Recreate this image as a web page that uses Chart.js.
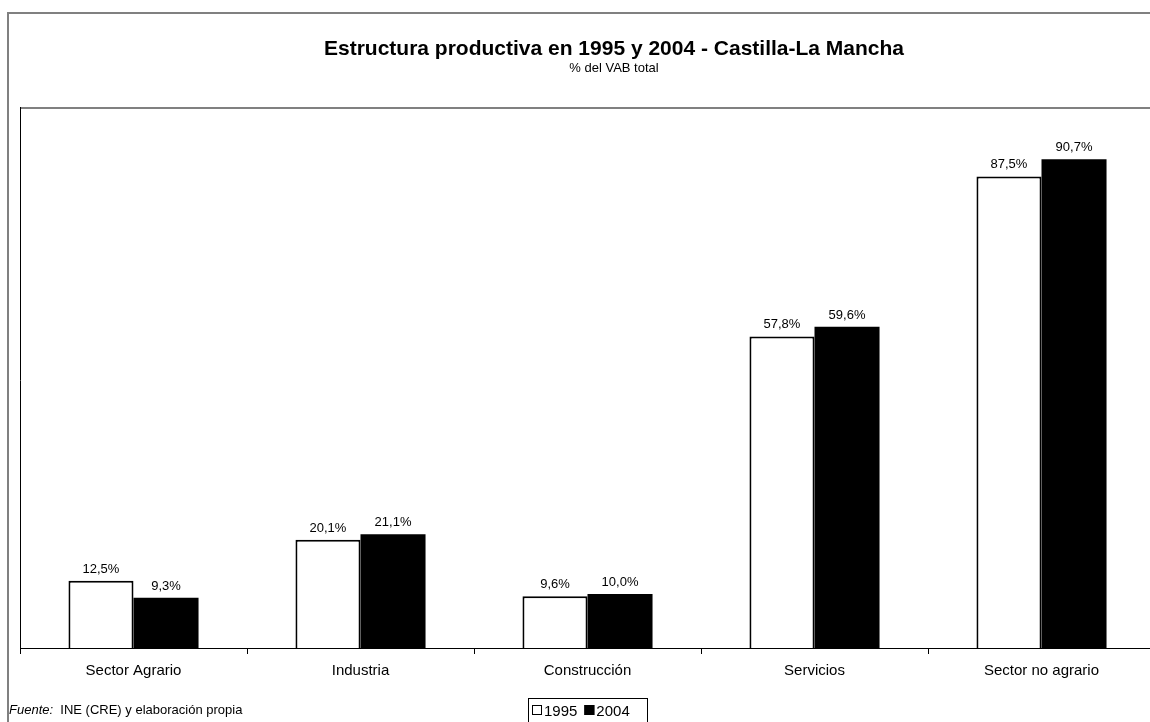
<!DOCTYPE html>
<html><head><meta charset="utf-8">
<script src="https://cdn.jsdelivr.net/npm/chart.js@4"></script>
<style>
html,body{margin:0;padding:0;background:#fff;overflow:hidden;width:1150px;height:722px;}
#wrap{position:relative;width:1150px;height:722px;overflow:hidden;}
canvas{position:absolute;left:0;top:0;}
</style></head><body>
<div id="wrap"><canvas id="c" width="1175" height="722"></canvas></div>
<script>
const categories = ["Sector Agrario", "Industria", "Construcción", "Servicios", "Sector no agrario"];
const seriesNames = ["1995", "2004"];
const values1995 = [12.5, 20.1, 9.6, 57.8, 87.5];
const values2004 = [9.3, 21.1, 10.0, 59.6, 90.7];
const titleText = "Estructura productiva en 1995 y 2004 - Castilla-La Mancha";
const subtitleText = "% del VAB total";
const sourceLabel = "Fuente:";
const sourceText = "INE (CRE) y elaboración propia";

const FONT = "'Liberation Sans', Arial, sans-serif";
const fmt = v => v.toFixed(1).replace('.', ',') + '%';

const decor = {
  id: 'decor',
  beforeDraw(chart) {
    const ctx = chart.ctx;
    ctx.save();
    ctx.fillStyle = '#fff';
    ctx.fillRect(0, 0, chart.width, chart.height);
    // outer frame
    ctx.strokeStyle = '#808080';
    ctx.lineWidth = 2;
    ctx.strokeRect(8, 13, 1300, 900);
    // title
    ctx.fillStyle = '#000';
    ctx.textAlign = 'center';
    ctx.textBaseline = 'alphabetic';
    ctx.font = 'bold 21px ' + FONT;
    ctx.fillText(titleText, 614, 55);
    ctx.font = '13px ' + FONT;
    ctx.fillText(subtitleText, 614, 72);
    ctx.restore();
  },
  afterDraw(chart) {
    const ctx = chart.ctx;
    const a = chart.chartArea;
    ctx.save();
    // plot frame
    ctx.strokeStyle = '#808080';
    ctx.lineWidth = 2;
    ctx.beginPath();
    ctx.moveTo(a.left, a.top - 1);
    ctx.lineTo(1300, a.top - 1);
    ctx.stroke();
    ctx.strokeStyle = '#000';
    ctx.lineWidth = 1;
    ctx.beginPath();
    ctx.moveTo(a.left + 0.5, a.top - 2);
    ctx.lineTo(a.left + 0.5, a.bottom + 6);
    ctx.stroke();
    // footer
    ctx.fillStyle = '#000';
    ctx.textAlign = 'left';
    ctx.textBaseline = 'alphabetic';
    ctx.font = 'italic 13px ' + FONT;
    ctx.fillText(sourceLabel, 9, 714);
    const w = ctx.measureText(sourceLabel + '  ').width;
    ctx.font = '13px ' + FONT;
    ctx.fillText(sourceText, 9 + w, 714);
    // legend
    ctx.strokeStyle = '#000';
    ctx.lineWidth = 1;
    ctx.strokeRect(528.5, 698.5, 119, 26);
    ctx.font = '15px ' + FONT;
    let x = 532;
    chart.data.datasets.forEach(ds => {
      ctx.fillStyle = ds.backgroundColor;
      ctx.fillRect(x, 705, 10, 10);
      ctx.strokeStyle = '#000';
      ctx.strokeRect(x + 0.5, 705.5, 9, 9);
      ctx.fillStyle = '#000';
      ctx.fillText(ds.label, x + 12, 716);
      x += 12 + ctx.measureText(ds.label).width + 7;
    });
    ctx.restore();
  },
  afterDatasetsDraw(chart) {
    const ctx = chart.ctx;
    ctx.save();
    ctx.fillStyle = '#000';
    ctx.textAlign = 'center';
    ctx.textBaseline = 'alphabetic';
    ctx.font = '13px ' + FONT;
    chart.data.datasets.forEach((ds, i) => {
      chart.getDatasetMeta(i).data.forEach((el, j) => {
        ctx.fillText(fmt(ds.data[j]), el.x, el.y - 8);
      });
    });
    ctx.restore();
  }
};

new Chart(document.getElementById('c'), {
  type: 'bar',
  data: {
    labels: categories,
    datasets: [
      { label: seriesNames[0], data: values1995, backgroundColor: '#ffffff', borderColor: '#000000', borderWidth: 2 },
      { label: seriesNames[1], data: values2004, backgroundColor: '#000000', borderColor: '#000000', borderWidth: 0 }
    ]
  },
  options: {
    responsive: false,
    animation: false,
    events: [],
    layout: { padding: { top: 109, left: 20, right: 20, bottom: 0 } },
    datasets: { bar: { categoryPercentage: 0.573, barPercentage: 1 } },
    plugins: { legend: { display: false }, title: { display: false }, tooltip: { enabled: false } },
    scales: {
      x: {
        afterFit(s) { s.height = 74; },
        border: { display: true, color: '#000', width: 1 },
        grid: { display: true, drawOnChartArea: false, drawTicks: true, tickLength: 6, color: '#000', offset: true },
        ticks: { color: '#000', font: { family: FONT, size: 15 }, padding: 8, maxRotation: 0 }
      },
      y: {
        display: false,
        min: 0, max: 100
      }
    }
  },
  plugins: [decor]
});
</script>
</body></html>
